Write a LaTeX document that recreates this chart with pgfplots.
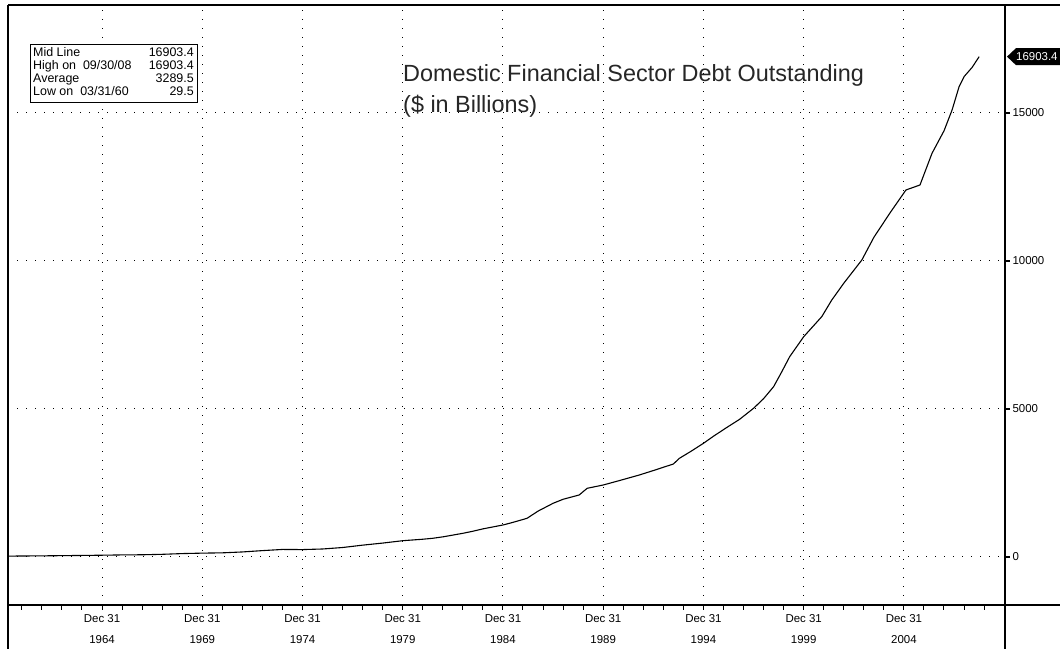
\documentclass[border=0pt]{standalone}
\usepackage{pgfplots}
\pgfplotsset{compat=1.18}
\usepackage{fontspec}
\setmainfont{Liberation Sans}
\pgfplotstableread{
yr val
1960.25 29.5
1961.0 33
1962.0 38
1963.0 45
1964.0 52
1965.0 60
1966.0 70
1967.0 75
1968.0 90
1969.0 115
1970.0 130
1971.0 140
1972.0 170
1973.0 215
1974.0 255
1975.0 250
1976.0 270
1977.0 320
1978.0 400
1979.0 470
1980.0 550
1981.0 600
1981.5 632
1982.0 680
1983.0 800
1983.5 870
1984.0 950
1985.0 1081
1985.5 1170
1986.2 1307
1986.75 1550
1987.5 1814
1988.0 1950
1988.8 2095
1989.2 2321
1990.0 2432
1990.8 2580
1991.8 2770
1992.5 2920
1993.5 3142
1993.8 3334
1994.4 3580
1995.0 3841
1995.5 4080
1996.1 4348
1996.8 4650
1997.5 5024
1998.0 5350
1998.5 5755
1998.9 6250
1999.3 6767
2000.0 7443
2000.9 8119
2001.4 8682
2002.0 9250
2002.9 10034
2003.5 10800
2004.3 11620
2005.1 12399
2005.8 12568
2006.4 13639
2007.0 14400
2007.4 15101
2007.75 15889
2008.0 16230
2008.4 16540
2008.75 16903.4
}\debt
\begin{document}
\begin{tikzpicture}[x=1bp,y=1bp]
\useasboundingbox (0,0) rectangle (1060,649);
\fill[white] (0,0) rectangle (1060,649);
\begin{axis}[
  at={(8bp,44bp)}, anchor=south west, scale only axis,
  width=997bp, height=600bp,
  xmin=1960.31, xmax=2010.04, ymin=-1622, ymax=18649,
  axis line style={draw=none},
  scaled y ticks=false,
  xtick={1965,1970,...,2005},
  xticklabels={{Dec 31\\1964},{Dec 31\\1969},{Dec 31\\1974},{Dec 31\\1979},{Dec 31\\1984},{Dec 31\\1989},{Dec 31\\1994},{Dec 31\\1999},{Dec 31\\2004}},
  xticklabel style={align=center, font=\fontsize{11.5}{21}\selectfont, yshift=-1bp},
  minor xtick={1961,...,2009},
  xtick pos=bottom, xtick align=outside,
  ytick={0,5000,10000,15000},
  ytick pos=right, yticklabel pos=right, ytick align=outside,
  yticklabel style={font=\fontsize{11.5}{12}\selectfont, anchor=west, xshift=-1bp},
  major tick length=5bp, minor tick length=5bp,
  x tick style={black, line width=1bp},
  y tick style={black, line width=2.5bp},
  grid=major,
  major grid style={black, line width=1bp, dash pattern=on 1bp off 8bp},
  /pgf/number format/1000 sep={},
  /pgf/number format/assume math mode=true,
]
\addplot[black, line width=1.1bp] table[x=yr, y=val] {\debt};
\coordinate (tagpt) at (axis cs:2010.04,16903.4);
\end{axis}
% frame lines
\draw[line width=1.5bp] (8,0) -- (8,644);
\draw[line width=1.2bp] (8,644) -- (1060,644);
\draw[line width=1.5bp] (8,44) -- (1060,44);
\draw[line width=1.8bp] (1005,0) -- (1005,644);
% last value tag
\fill[black] ([xshift=2bp]tagpt) -- ++(9,8.5) -- ++(60,0) -- ++(0,-17) -- ++(-60,0) -- cycle;
\node[anchor=west, text=white, font=\fontsize{11.5}{12}\selectfont, inner sep=0pt] at ([xshift=11bp]tagpt) {16903.4};
% title
\node[anchor=base west, font=\fontsize{23.5}{26}\selectfont, text=black!85, inner sep=0pt] at (403,567) {Domestic Financial Sector Debt Outstanding};
\node[anchor=base west, font=\fontsize{23.5}{26}\selectfont, text=black!85, inner sep=0pt] at (403,536) {(\$ in Billions)};
% stats box
\draw[fill=white, line width=1bp] (30,546) rectangle (197,604);
\begin{scope}[font=\fontsize{12.5}{13}\selectfont]
\node[anchor=base west, inner sep=0pt] at (33,592) {Mid Line};
\node[anchor=base west, inner sep=0pt] at (33,579) {High on\ \ 09/30/08};
\node[anchor=base west, inner sep=0pt] at (33,566) {Average};
\node[anchor=base west, inner sep=0pt] at (33,553) {Low on\ \ 03/31/60};
\node[anchor=base east, inner sep=0pt] at (194,592) {16903.4};
\node[anchor=base east, inner sep=0pt] at (194,579) {16903.4};
\node[anchor=base east, inner sep=0pt] at (194,566) {3289.5};
\node[anchor=base east, inner sep=0pt] at (194,553) {29.5};
\end{scope}
\end{tikzpicture}
\end{document}
